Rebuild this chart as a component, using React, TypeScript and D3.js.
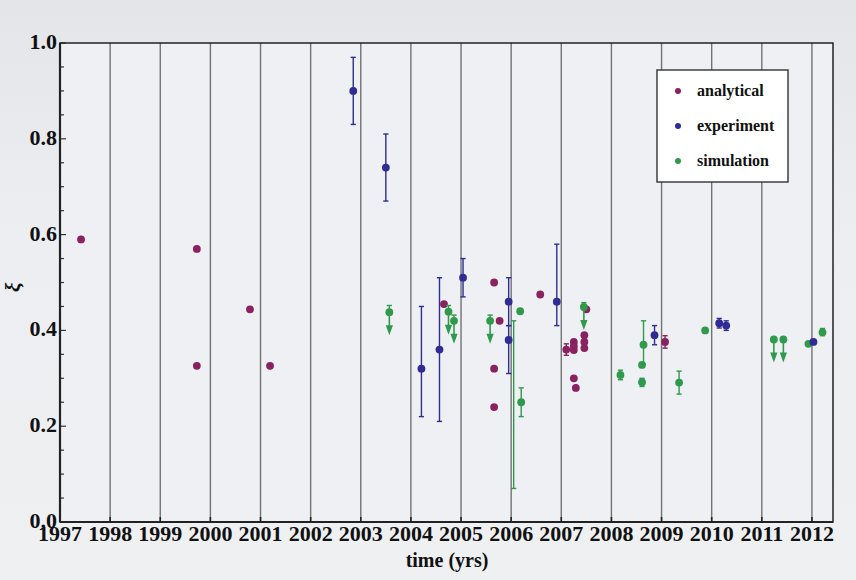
import * as React from 'react'
import { useEffect, useRef } from 'react'
import * as d3 from 'd3'

// values
const yearTicks = d3.range(1997, 2013)
const xiTicks = [0, 0.2, 0.4, 0.6, 0.8, 1.0]

const analyticalYear = [1997.42, 1999.73, 1999.73, 2000.79, 2001.19, 2004.66, 2005.66, 2005.77, 2005.66, 2005.66, 2006.58,
  2007.10, 2007.25, 2007.25, 2007.25, 2007.46, 2007.46, 2007.46, 2007.50, 2007.25, 2007.29, 2009.07]
const analyticalXi = [0.59, 0.57, 0.326, 0.444, 0.326, 0.455, 0.50, 0.42, 0.32, 0.24, 0.475,
  0.36, 0.376, 0.367, 0.359, 0.39, 0.376, 0.363, 0.444, 0.30, 0.28, 0.376]
const analyticalErr = [0, 0, 0, 0, 0, 0, 0, 0, 0, 0, 0,
  0.012, 0, 0, 0, 0, 0, 0, 0, 0, 0, 0.013]

const experimentYear = [2002.85, 2003.50, 2004.21, 2004.57, 2005.04, 2005.95, 2005.95, 2006.91, 2008.86, 2010.15, 2010.29, 2012.03]
const experimentXi = [0.90, 0.74, 0.32, 0.36, 0.51, 0.46, 0.38, 0.46, 0.39, 0.415, 0.41, 0.376]
const experimentLo = [0.83, 0.67, 0.22, 0.21, 0.47, 0.41, 0.31, 0.41, 0.37, 0.405, 0.40, 0.376]
const experimentHi = [0.97, 0.81, 0.45, 0.51, 0.55, 0.51, 0.41, 0.58, 0.41, 0.425, 0.42, 0.376]

const simulationYear = [2003.57, 2004.75, 2004.86, 2005.58, 2006.18, 2006.20, 2007.45, 2008.18, 2008.64, 2008.61, 2008.61,
  2009.35, 2009.87, 2011.24, 2011.43, 2011.93, 2012.21]
const simulationXi = [0.438, 0.439, 0.42, 0.42, 0.44, 0.25, 0.449, 0.307, 0.37, 0.328, 0.292,
  0.291, 0.40, 0.381, 0.381, 0.372, 0.396]
const simulationLo = [0.438, 0.439, 0.42, 0.42, 0.44, 0.22, 0.449, 0.297, 0.33, 0.328, 0.283,
  0.267, 0.40, 0.381, 0.381, 0.372, 0.389]
const simulationHi = [0.452, 0.452, 0.432, 0.432, 0.44, 0.28, 0.458, 0.317, 0.42, 0.328, 0.30,
  0.315, 0.40, 0.381, 0.381, 0.372, 0.404]
const simulationUpperLimit = [true, true, true, true, false, false, true, false, false, false, false,
  false, false, true, true, false, false]

// the long green range near 2006 whose centre point is not visible
const simRangeYear = [2006.05]
const simRangeLo = [0.07]
const simRangeHi = [0.42]

const legendLabels = ['analytical', 'experiment', 'simulation']
const colors = ['#8a2160', '#2f2c93', '#2f9a4c']

const W = 856
const H = 580

const App = () => {
  const chartRef = useRef<SVGSVGElement>(null)

  useEffect(() => {
    const svg = d3.select(chartRef.current)
    svg.selectAll('*').remove()

    const left = 60, right = 833, top = 43, bottom = 522
    const x = d3.scaleLinear().domain([1997, 2012.42]).range([left, right])
    const y = d3.scaleLinear().domain([0, 1]).range([bottom, top])
    const font = "'Liberation Serif', 'Times New Roman', serif"

    const defs = svg.append('defs')
    const grad = defs.append('linearGradient').attr('id', 'bg').attr('x1', 0).attr('y1', 0).attr('x2', 0).attr('y2', 1)
    grad.append('stop').attr('offset', '0%').attr('stop-color', '#e3e5e9')
    grad.append('stop').attr('offset', '40%').attr('stop-color', '#eceef1')
    grad.append('stop').attr('offset', '100%').attr('stop-color', '#eef0f2')

    svg.append('rect').attr('width', W).attr('height', H).attr('fill', 'url(#bg)')
    svg.append('rect').attr('x', left).attr('y', top).attr('width', right - left).attr('height', bottom - top)
      .attr('fill', '#eef0f3')

    // vertical year grid
    svg.append('g').selectAll('line').data(yearTicks.slice(1)).enter().append('line')
      .attr('x1', d => x(d)).attr('x2', d => x(d))
      .attr('y1', top).attr('y2', bottom)
      .attr('stroke', '#727272').attr('stroke-width', 1.4)

    // bottom ticks
    svg.append('g').selectAll('line').data(yearTicks).enter().append('line')
      .attr('x1', d => x(d)).attr('x2', d => x(d))
      .attr('y1', bottom).attr('y2', bottom - 5)
      .attr('stroke', '#222').attr('stroke-width', 1.6)

    // left ticks, minor every 0.05
    svg.append('g').selectAll('line').data(d3.range(0, 1.0001, 0.05)).enter().append('line')
      .attr('x1', left).attr('x2', (d, i) => left + (i % 4 === 0 ? 6 : 4))
      .attr('y1', d => y(d)).attr('y2', d => y(d))
      .attr('stroke', '#333').attr('stroke-width', 1.2)

    // frame
    svg.append('rect').attr('x', left).attr('y', top).attr('width', right - left).attr('height', bottom - top)
      .attr('fill', 'none').attr('stroke', '#222').attr('stroke-width', 1.5)
    svg.append('line').attr('x1', left).attr('x2', right).attr('y1', bottom).attr('y2', bottom)
      .attr('stroke', '#222').attr('stroke-width', 2.2)
    svg.append('line').attr('x1', left).attr('x2', left).attr('y1', top).attr('y2', bottom)
      .attr('stroke', '#222').attr('stroke-width', 2.2)

    // tick labels
    svg.append('g').selectAll('text').data(yearTicks).enter().append('text')
      .attr('x', d => x(d)).attr('y', bottom + 19)
      .attr('text-anchor', 'middle')
      .style('font-family', font).style('font-weight', 'bold').style('font-size', '22px').attr('fill', '#111')
      .text(d => d)

    svg.append('g').selectAll('text').data(xiTicks).enter().append('text')
      .attr('x', left - 3).attr('y', d => y(d) + 6)
      .attr('text-anchor', 'end')
      .style('font-family', font).style('font-weight', 'bold').style('font-size', '22px').attr('fill', '#111')
      .text(d => d.toFixed(1))

    svg.append('text').attr('x', 447).attr('y', 567).attr('text-anchor', 'middle')
      .style('font-family', font).style('font-weight', 'bold').style('font-size', '20px').attr('fill', '#111')
      .text('time (yrs)')

    svg.append('text').attr('transform', `translate(20, ${y(0.49)}) rotate(-90)`).attr('text-anchor', 'middle')
      .style('font-family', font).style('font-weight', 'bold').style('font-style', 'italic')
      .style('font-size', '21px').attr('fill', '#111')
      .text('ξ')

    const r = 3.9
    const cap = 2.6

    const errBar = (g, xs, lo, hi, color) => {
      xs.forEach((d, i) => {
        if (hi[i] - lo[i] < 0.001) return
        g.append('line').attr('x1', x(d)).attr('x2', x(d)).attr('y1', y(lo[i])).attr('y2', y(hi[i]))
          .attr('stroke', color).attr('stroke-width', 1.4)
        ;[lo[i], hi[i]].forEach(v => {
          g.append('line').attr('x1', x(d) - cap).attr('x2', x(d) + cap).attr('y1', y(v)).attr('y2', y(v))
            .attr('stroke', color).attr('stroke-width', 1.4)
        })
      })
    }

    // analytical
    const ga = svg.append('g')
    errBar(ga, analyticalYear, analyticalXi.map((v, i) => v - analyticalErr[i]), analyticalXi.map((v, i) => v + analyticalErr[i]), colors[0])
    ga.selectAll('circle').data(analyticalYear).enter().append('circle')
      .attr('cx', d => x(d)).attr('cy', (d, i) => y(analyticalXi[i])).attr('r', r).attr('fill', colors[0])

    // simulation
    const gs = svg.append('g')
    errBar(gs, simRangeYear, simRangeLo, simRangeHi, colors[2])
    errBar(gs, simulationYear, simulationLo, simulationHi, colors[2])
    simulationYear.forEach((d, i) => {
      if (!simulationUpperLimit[i]) return
      const cx = x(d), cy = y(simulationXi[i])
      gs.append('line').attr('x1', cx).attr('x2', cx).attr('y1', cy).attr('y2', cy + 16)
        .attr('stroke', colors[2]).attr('stroke-width', 1.6)
      gs.append('path').attr('d', `M${cx - 3.6},${cy + 13} L${cx + 3.6},${cy + 13} L${cx},${cy + 23} Z`)
        .attr('fill', colors[2])
    })
    gs.selectAll('circle').data(simulationYear).enter().append('circle')
      .attr('cx', d => x(d)).attr('cy', (d, i) => y(simulationXi[i])).attr('r', r).attr('fill', colors[2])

    // experiment
    const ge = svg.append('g')
    errBar(ge, experimentYear, experimentLo, experimentHi, colors[1])
    ge.selectAll('circle').data(experimentYear).enter().append('circle')
      .attr('cx', d => x(d)).attr('cy', (d, i) => y(experimentXi[i])).attr('r', r).attr('fill', colors[1])

    // legend
    const lg = svg.append('g').attr('transform', 'translate(657, 70)')
    lg.append('rect').attr('width', 131).attr('height', 112).attr('fill', '#fff')
      .attr('stroke', '#333').attr('stroke-width', 1.4)
    legendLabels.forEach((lab, i) => {
      lg.append('circle').attr('cx', 21).attr('cy', 21 + i * 35).attr('r', 3).attr('fill', colors[i])
      lg.append('text').attr('x', 40).attr('y', 26 + i * 35)
        .style('font-family', font).style('font-weight', 'bold').style('font-size', '16px').attr('fill', '#111')
        .text(lab)
    })
  }, [])

  return (
    <svg ref={chartRef} width={W} height={H} style={{ position: 'absolute', left: 0, top: 0 }}></svg>
  )
}

export default App
